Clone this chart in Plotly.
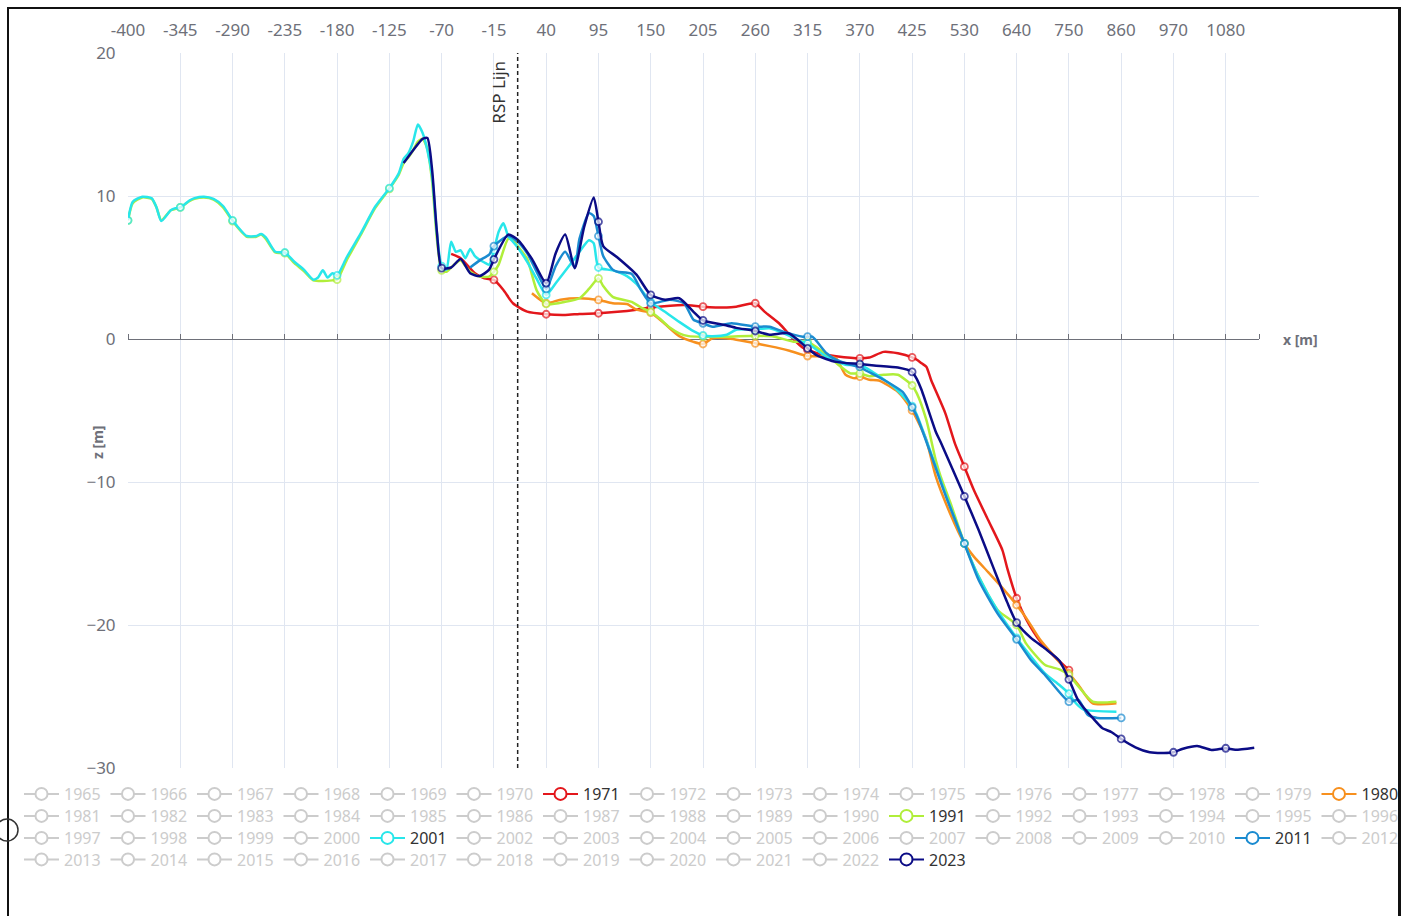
import plotly.graph_objects as go

# ---------------- axis categories & labels ----------------
CATEGORIES = list(range(-400, 431, 5)) + list(range(440, 1151, 10))
TICK_LABELS = [-400, -345, -290, -235, -180, -125, -70, -15, 40, 95, 150, 205,
               260, 315, 370, 425, 530, 640, 750, 860, 970, 1080]
Y_TICKS = [-30, -20, -10, 0, 10, 20]
RSP_X = 10
YEARS = list(range(1965, 2024))

# ---------------- series data (x [m], z [m]) ----------------
X_1971 = [-60, -50, -35, -25, -15, -5, 5, 20, 40, 60, 75, 95, 115, 135, 150, 185, 205, 230, 240, 260,
          270, 285, 300, 310, 315, 325, 345, 370, 380, 395, 410, 425, 430, 440, 450, 460, 490, 510, 530,
          550, 580, 610, 620, 640, 660, 690, 720, 750]
Z_1971 = [5.95, 5.65, 4.6, 4.24, 4.13, 3.43, 2.5, 1.91, 1.73, 1.68, 1.75, 1.8, 1.9, 2.05, 2.2, 2.38, 2.26,
          2.2, 2.26, 2.5, 1.9, 1.1, 0.0, -0.6, -0.75, -1.0, -1.2, -1.35, -1.3, -0.9, -1.0, -1.28, -1.45,
          -1.7, -1.94, -2.87, -5.2, -7.3, -8.93, -10.56, -12.66, -14.76, -16.0, -18.13, -19.6, -21.17,
          -22.22, -23.15]

X_1980 = [25, 40, 55, 75, 95, 110, 125, 135, 150, 165, 180, 195, 205, 215, 230, 240, 260, 275, 295, 315,
          335, 345, 355, 365, 370, 380, 390, 410, 425, 430, 450, 470, 500, 530, 550, 580, 610, 640, 660,
          690, 720, 750, 770, 800, 850]
Z_1980 = [3.2, 2.5, 2.75, 2.85, 2.73, 2.5, 2.45, 2.05, 1.85, 1.05, 0.2, -0.2, -0.35, 0.05, 0.05, -0.05,
          -0.3, -0.5, -0.8, -1.19, -1.2, -1.35, -2.5, -2.75, -2.63, -2.85, -2.9, -3.7, -5.0, -5.6, -7.06,
          -9.63, -12.2, -14.3, -15.22, -16.3, -17.4, -18.6, -19.5, -21.05, -22.22, -23.38, -24.2,
          -25.48, -25.48]

X_1991 = [-400, -395, -385, -375, -370, -365, -355, -350, -345, -335, -330, -320, -310, -300, -290, -280,
          -275, -265, -260, -255, -245, -235, -225, -215, -205, -195, -185, -180, -170, -155, -140, -125,
          -115, -110, -105, -100, -95, -90, -85, -80, -75, -70, -65, -60, -55, -50, -45, -40, -30, -20,
          -15, -10, 0, 5, 10, 20, 30, 40, 60, 75, 85, 95, 100, 110, 130, 140, 150, 160, 170, 180, 190,
          205, 230, 260, 280, 300, 315, 335, 350, 360, 370, 380, 395, 410, 425, 430, 450, 470, 480, 500,
          530, 560, 600, 640, 660, 700, 730, 750, 770, 800, 850]
Z_1991 = [8.3, 9.5, 9.9, 9.8, 9.2, 8.3, 9.0, 9.1, 9.2, 9.65, 9.8, 9.9, 9.75, 9.2, 8.25, 7.45, 7.15, 7.15,
          7.3, 7.0, 6.05, 6.0, 5.3, 4.75, 4.1, 4.05, 4.1, 4.15, 5.5, 7.3, 9.15, 10.5, 11.5, 12.3, 12.7,
          13.2, 13.8, 14.0, 13.3, 11.0, 7.0, 4.8, 4.7, 5.0, 5.3, 5.5, 5.1, 4.7, 4.36, 4.36, 4.7, 5.2, 7.0,
          6.9, 6.5, 5.6, 3.4, 2.45, 2.6, 2.85, 3.5, 4.24, 3.7, 2.95, 2.6, 2.2, 1.9, 1.4, 0.8, 0.4, 0.2,
          0.16, 0.16, 0.23, 0.16, -0.19, -0.19, -1.1, -1.94, -2.4, -2.4, -2.6, -2.5, -2.5, -3.25, -3.8,
          -5.66, -8.5, -9.6, -11.4, -14.29, -16.6, -18.95, -20.0, -21.3, -22.8, -23.1, -23.5, -24.3,
          -25.36, -25.36]

X_2001 = [-400, -395, -385, -375, -370, -365, -355, -350, -345, -335, -330, -320, -310, -300, -290, -280,
          -275, -265, -260, -255, -245, -235, -225, -215, -205, -200, -195, -190, -185, -180, -170, -155,
          -140, -125, -115, -110, -105, -100, -95, -90, -85, -80, -75, -70, -65, -60, -55, -50, -45, -40,
          -35, -25, -20, -15, -10, -5, 0, 5, 10, 20, 30, 40, 50, 65, 75, 85, 90, 95, 110, 125, 135, 150,
          165, 180, 195, 205, 215, 230, 240, 260, 275, 290, 310, 315, 335, 355, 370, 380, 405, 425, 430,
          460, 490, 530, 560, 600, 640, 670, 700, 730, 750, 760, 780, 850]
Z_2001 = [8.3, 9.6, 9.95, 9.85, 9.2, 8.25, 9.0, 9.15, 9.2, 9.7, 9.85, 9.95, 9.8, 9.3, 8.3, 7.5, 7.2, 7.2,
          7.35, 7.1, 6.1, 6.05, 5.4, 4.85, 4.15, 4.3, 4.8, 4.3, 4.6, 4.45, 5.7, 7.4, 9.25, 10.55, 11.6,
          12.6, 13.0, 13.8, 15.0, 14.4, 13.2, 11.35, 7.4, 5.1, 4.85, 6.8, 6.1, 6.2, 5.65, 6.3, 5.8, 5.35,
          5.2, 6.2, 7.5, 8.1, 7.2, 6.8, 6.4, 5.4, 4.2, 3.08, 3.9, 5.2, 6.1, 6.9, 6.7, 5.0, 4.8, 4.4, 3.85,
          2.6, 1.9, 1.2, 0.55, 0.25, 0.2, 0.3, 0.65, 0.68, 0.75, 0.4, -0.2, -0.3, -1.25, -1.8, -1.82,
          -2.15, -3.3, -4.7, -5.3, -8.0, -10.8, -14.29, -16.62, -19.0, -20.9, -22.2, -23.4, -24.2,
          -24.8, -25.3, -25.9, -26.06]

X_2011 = [-40, -30, -20, -15, 0, 10, 20, 30, 40, 50, 60, 70, 75, 85, 90, 95, 100, 110, 115, 130, 140,
          150, 170, 185, 195, 205, 215, 235, 260, 275, 290, 310, 315, 320, 335, 345, 360, 370, 375, 395,
          415, 425, 430, 460, 490, 530, 560, 600, 640, 670, 700, 750, 770, 790, 810, 860]
Z_2011 = [5.0, 5.5, 5.9, 6.5, 7.2, 6.8, 6.0, 4.7, 3.5, 5.1, 6.1, 5.0, 7.0, 8.8, 8.6, 7.2, 5.8, 4.85, 4.7,
          4.55, 3.4, 2.5, 2.75, 2.5, 1.35, 1.1, 0.85, 1.1, 0.86, 0.86, 0.5, 0.16, 0.16, 0.16, -1.0, -1.45,
          -1.8, -1.95, -2.15, -2.85, -3.7, -4.78, -5.4, -8.1, -10.9, -14.3, -16.85, -19.2, -21.0, -22.45,
          -23.5, -25.36, -25.24, -26.3, -26.5, -26.5]

X_2023 = [-110, -100, -90, -85, -80, -75, -70, -60, -50, -40, -30, -20, -15, 0, 10, 25, 40, 50, 60, 70,
          80, 90, 95, 100, 115, 135, 150, 165, 180, 195, 205, 230, 240, 260, 275, 295, 315, 325, 345, 370,
          385, 410, 425, 430, 440, 470, 480, 530, 560, 590, 620, 640, 670, 700, 730, 750, 770, 800, 820,
          840, 860, 890, 920, 950, 970, 990, 1020, 1050, 1080, 1100, 1140]
Z_2023 = [12.3, 13.2, 14.0, 14.05, 11.8, 7.5, 4.95, 5.0, 5.6, 4.6, 4.4, 4.85, 5.57, 7.3, 6.95, 5.6, 3.9,
          6.0, 7.3, 4.95, 7.85, 9.9, 8.2, 6.5, 5.7, 4.5, 3.08, 2.75, 2.85, 1.9, 1.3, 0.95, 0.78, 0.56,
          0.3, 0.4, -0.65, -1.15, -1.6, -1.75, -1.85, -2.0, -2.3, -2.8, -3.57, -6.5, -7.2, -11.0, -13.36,
          -15.9, -18.4, -19.84, -20.9, -21.65, -22.5, -23.8, -25.3, -26.5, -27.2, -27.5, -27.97,
          -28.55, -28.9, -28.95, -28.9, -28.65, -28.46, -28.74, -28.62, -28.72, -28.58]

ACTIVE = {
    1971: (X_1971, Z_1971, "#e3171c"),
    1980: (X_1980, Z_1980, "#f7901e"),
    1991: (X_1991, Z_1991, "#b0ee3a"),
    2001: (X_2001, Z_2001, "#28e6ea"),
    2011: (X_2011, Z_2011, "#1a8bd0"),
    2023: (X_2023, Z_2023, "#0b0c86"),
}
INACTIVE_COLOR = "#cccccc"

# ---------------- layout geometry ----------------
W, H = 1411, 916
ML, MR, MT, MB = 128, 0, 53, 148
GW = W - ML - MR
GH = H - MT - MB
X_END = 1259


def px_x(px):
    return (px - ML) / GW


def px_y(py):
    return (H - MB - py) / GH


cat_str = [str(c) for c in CATEGORIES]
tick_vals = [str(v) for v in TICK_LABELS] + [cat_str[-1]]
tick_text = [str(v) for v in TICK_LABELS] + [""]
labeled = set(TICK_LABELS)
legend_ids = ["legend", "legend2", "legend3", "legend4"]
rsp_pos = CATEGORIES.index(RSP_X)

fig = go.Figure()

# legend entries (one per year)
for i, year in enumerate(YEARS):
    leg = legend_ids[i // 16]
    col = ACTIVE[year][2] if year in ACTIVE else INACTIVE_COLOR
    name = str(year) if year in ACTIVE else '<span style="color:%s">%d</span>' % (INACTIVE_COLOR, year)
    fig.add_trace(go.Scatter(
        x=[None], y=[None], mode="lines+markers", name=name, legend=leg,
        legendgroup=str(year),
        line=dict(color=col, width=2),
        marker=dict(symbol="circle", color="white", size=12, line=dict(color=col, width=2)),
        hoverinfo="skip",
    ))

# profile lines
for year in YEARS:
    if year not in ACTIVE:
        continue
    xs, zs, col = ACTIVE[year]
    fig.add_trace(go.Scatter(
        x=[str(v) for v in xs], y=zs, mode="lines+markers", name=str(year),
        legendgroup=str(year), showlegend=False,
        line=dict(color=col, width=2.5, shape="spline", smoothing=0.6),
        marker=dict(symbol="circle", color="white",
                    size=[7 if v in labeled else 0 for v in xs],
                    line=dict(color=col, width=[1.8 if v in labeled else 0 for v in xs])),
    ))

# carrier for the zero-line axis
fig.add_trace(go.Scatter(x=[cat_str[0]], y=[None], xaxis="x2", yaxis="y", mode="lines",
                         showlegend=False, hoverinfo="skip"))

dom = [0, px_x(X_END)]
font_family = "Noto Sans"
axis_grey = "#6e7079"
grid = "#e0e6f1"

fig.update_layout(
    width=W, height=H,
    margin=dict(l=ML, r=MR, t=MT, b=MB, autoexpand=False),
    paper_bgcolor="white", plot_bgcolor="white",
    font=dict(family=font_family, color=axis_grey, size=16),
    xaxis=dict(type="category", categoryorder="array", categoryarray=cat_str,
               range=[0, len(cat_str) - 1], domain=dom, side="top",
               tickmode="array", tickvals=tick_vals, ticktext=tick_text,
               ticks="outside", ticklen=9, tickcolor="rgba(0,0,0,0)",
               tickfont=dict(size=17, color=axis_grey, family=font_family),
               showgrid=True, gridcolor=grid, gridwidth=1,
               showline=False, zeroline=False),
    xaxis2=dict(type="category", categoryorder="array", categoryarray=cat_str,
                range=[0, len(cat_str) - 1], domain=dom, overlaying="x",
                anchor="free", position=0.6, side="top", layer="below traces",
                tickmode="array", tickvals=tick_vals, ticktext=tick_text,
                showticklabels=False, ticks="outside", ticklen=5, tickcolor=axis_grey,
                showline=True, linecolor=axis_grey, linewidth=1,
                showgrid=False, zeroline=False),
    yaxis=dict(range=[-30, 20], tickmode="array", tickvals=Y_TICKS,
               ticks="outside", ticklen=8, tickcolor="rgba(0,0,0,0)",
               tickfont=dict(size=17, color=axis_grey, family=font_family),
               showgrid=True, gridcolor=grid, gridwidth=1,
               showline=False, zeroline=False),
    showlegend=True,
)

legend_rows_px = [794, 816, 838, 859.5]
for lid, py in zip(legend_ids, legend_rows_px):
    fig.update_layout({lid: dict(
        orientation="h", x=px_x(19), xanchor="left", y=px_y(py), yanchor="middle",
        itemwidth=35, entrywidth=36.5, entrywidthmode="pixels", itemsizing="trace",
        font=dict(family=font_family, size=16, color="#333333"),
        bgcolor="rgba(0,0,0,0)", borderwidth=0, tracegroupgap=0,
    )})

# RSP reference line
fig.add_shape(type="line", xref="x", yref="paper", x0=rsp_pos, x1=rsp_pos, y0=0, y1=1,
              line=dict(color="#222222", width=1.5, dash="4px,3px"), layer="above")
fig.add_annotation(x=rsp_pos, xref="x", y=1, yref="paper", text="RSP Lijn", textangle=-90,
                   showarrow=False, xanchor="right", yanchor="top", xshift=-6, yshift=-6,
                   font=dict(family=font_family, size=17, color="#333333"))

# axis names
fig.add_annotation(x=px_x(1300), xref="paper", y=0, yref="y", text="<b>x [m]</b>", showarrow=False,
                   xanchor="center", yanchor="middle",
                   font=dict(family=font_family, size=14, color=axis_grey))
fig.add_annotation(x=px_x(98), xref="paper", y=px_y(443), yref="paper", text="<b>z [m]</b>",
                   textangle=-90, showarrow=False, xanchor="center", yanchor="middle",
                   font=dict(family=font_family, size=14, color=axis_grey))

# outer frame of the screenshot
frame = dict(color="#111111")
fig.add_shape(type="line", xref="paper", yref="paper", x0=px_x(7), x1=px_x(1401), y0=px_y(8), y1=px_y(8),
              line=dict(width=2, **frame), layer="above")
fig.add_shape(type="line", xref="paper", yref="paper", x0=px_x(8), x1=px_x(8), y0=px_y(8), y1=px_y(920),
              line=dict(width=2, **frame), layer="above")
fig.add_shape(type="line", xref="paper", yref="paper", x0=px_x(1399.5), x1=px_x(1399.5), y0=px_y(8),
              y1=px_y(920), line=dict(width=3, **frame), layer="above")
# small round handle on the left edge
fig.add_shape(type="circle", xref="paper", yref="paper", x0=px_x(-4), x1=px_x(18), y0=px_y(841),
              y1=px_y(819), line=dict(width=1.5, color="#333333"), fillcolor="rgba(0,0,0,0)",
              layer="above")

fig.write_html("out.html", config={"displayModeBar": False},
               post_script="document.body.style.margin='0';document.body.style.overflow='hidden';")
